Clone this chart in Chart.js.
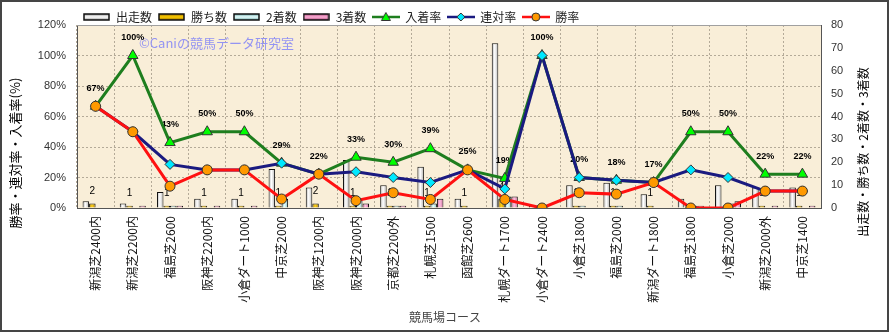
<!DOCTYPE html>
<html>
<head>
<meta charset="utf-8">
<script src="https://cdn.jsdelivr.net/npm/chart.js@4"></script>
<style>
  body { margin: 0; background: #fff; }
  #chart { display: block; }
</style>
</head>
<body>
<canvas id="chart" width="889" height="332"></canvas>
<script>
const labels = ["新潟芝2400内", "新潟芝2200内", "福島芝2600", "阪神芝2200内", "小倉ダート1000", "中京芝2000", "阪神芝1200内", "阪神芝2000内", "京都芝2200外", "札幌芝1500",
    "函館芝2600", "札幌ダート1700", "小倉ダート2400", "小倉芝1800", "福島芝2000", "新潟ダート1800", "福島芝1800", "小倉芝2000", "新潟芝2000外", "中京芝1400"]
const runs = [3, 2, 7, 4, 4, 17, 9, 21, 10, 18, 4, 72, 1, 10, 11, 6, 4, 10, 9, 9]
const wins = [2, 1, 1, 1, 1, 1, 2, 1, 1, 1, 1, 4, 0, 1, 1, 1, 0, 0, 1, 1]
const seconds = [0, 0, 1, 0, 0, 4, 0, 4, 1, 2, 0, 5, 1, 1, 1, 0, 1, 2, 0, 0]
const thirds = [0, 1, 1, 1, 1, 0, 0, 2, 1, 4, 0, 5, 0, 0, 0, 0, 1, 3, 1, 1]
const placeRate = [66.7, 100, 42.9, 50, 50, 29.4, 22.2, 33.3, 30, 38.9, 25, 19.4, 100, 20, 18.2, 16.7, 50, 50, 22.2, 22.2]
const quinellaRate = [66.7, 50, 28.6, 25, 25, 29.4, 22.2, 23.8, 20, 16.7, 25, 12.5, 100, 20, 18.2, 16.7, 25, 20, 11.1, 11.1]
const winRate = [66.7, 50, 14.3, 25, 25, 5.9, 22.2, 4.8, 10, 5.6, 25, 5.6, 0, 10, 9.1, 16.7, 0, 0, 11.1, 11.1]
const rateTicks = [0, 20, 40, 60, 80, 100, 120]
const countTicks = [0, 10, 20, 30, 40, 50, 60, 70, 80]

const JP = "'Noto Sans CJK JP', 'Noto Sans', sans-serif"
const LAT = "'Liberation Sans', Arial, sans-serif"

// cylinder-like fill across each bar
const barFill = (edge, mid, k) => (c) => {
    const xs = c.chart.scales.x
    if (c.type !== "data" || !xs || !(xs.right > xs.left)) return mid
    const catW = (xs.right - xs.left) / labels.length
    const bw = catW * 0.7 / 4
    const x0 = xs.getPixelForValue(c.dataIndex) - catW * 0.35 + bw * k
    const g = c.chart.ctx.createLinearGradient(x0, 0, x0 + bw, 0)
    g.addColorStop(0, edge)
    g.addColorStop(0.45, mid)
    g.addColorStop(1, edge)
    return g
}

const boxIcon = (edge, mid, border) => {
    const cv = document.createElement("canvas")
    cv.width = 27
    cv.height = 8
    const x = cv.getContext("2d")
    const g = x.createLinearGradient(0, 1, 0, 7)
    g.addColorStop(0, edge)
    g.addColorStop(0.5, mid)
    g.addColorStop(1, edge)
    x.fillStyle = g
    x.fillRect(1, 1, 25, 6)
    x.strokeStyle = border
    x.lineWidth = 1.5
    x.strokeRect(1, 1, 25, 6)
    return cv
}

const lineIcon = (color, fill, shape) => {
    const cv = document.createElement("canvas")
    cv.width = 28
    cv.height = 12
    const x = cv.getContext("2d")
    x.strokeStyle = color
    x.lineWidth = 2.5
    x.beginPath()
    x.moveTo(0, 6)
    x.lineTo(28, 6)
    x.stroke()
    x.fillStyle = fill
    x.strokeStyle = "#333"
    x.lineWidth = 1
    x.beginPath()
    if (shape === "tri") {
        x.moveTo(14, 1.5); x.lineTo(18.5, 9.5); x.lineTo(9.5, 9.5); x.closePath()
    } else if (shape === "dia") {
        x.moveTo(14, 2); x.lineTo(18, 6); x.lineTo(14, 10); x.lineTo(10, 6); x.closePath()
    } else {
        x.arc(14, 6, 4, 0, Math.PI * 2)
    }
    x.fill()
    x.stroke()
    return cv
}

const legendIcons = [
    boxIcon("#9a9a9a", "#ffffff", "#111"),
    boxIcon("#a07000", "#ffd000", "#111"),
    boxIcon("#70a8a8", "#e8ffff", "#111"),
    boxIcon("#b05080", "#ffb0d8", "#111"),
    lineIcon("#1e7e1e", "#00ff00", "tri"),
    lineIcon("#1a1a80", "#00e8ff", "dia"),
    lineIcon("#ff1010", "#ff9900", "circ")
]

const decoPlugin = {
    id: "deco",
    beforeDraw(chart) {
        const { ctx, chartArea: a } = chart
        ctx.save()
        ctx.fillStyle = "#ffffff"
        ctx.fillRect(0, 0, chart.width, chart.height)
        ctx.fillStyle = "#f9eed8"
        ctx.fillRect(a.left, a.top, a.right - a.left, a.bottom - a.top)
        ctx.restore()
    },
    beforeDatasetsDraw(chart) {
        const { ctx, chartArea: a } = chart
        ctx.save()
        ctx.font = "13px " + JP
        ctx.fillStyle = "#9494f2"
        ctx.textBaseline = "middle"
        ctx.fillText("©Caniの競馬データ研究室", 139, 43)
        ctx.strokeStyle = "#a0a0a0"
        ctx.lineWidth = 1
        ctx.beginPath()
        ctx.moveTo(a.left, a.top + 0.5)
        ctx.lineTo(a.right, a.top + 0.5)
        ctx.stroke()
        ctx.restore()
    },
    afterDatasetDraw(chart, args) {
        // bars share one order and are drawn last index first, so index 0 is the final bar set
        if (args.index !== 0) return
        const ctx = chart.ctx
        const goldMeta = chart.getDatasetMeta(1)
        const placeMeta = chart.getDatasetMeta(4)
        ctx.save()
        ctx.textAlign = "center"
        ctx.textBaseline = "middle"
        ctx.fillStyle = "#000"
        ctx.font = "10px " + LAT
        goldMeta.data.forEach((bar, i) => {
            if (wins[i] > 0) ctx.fillText(String(wins[i]), bar.x, bar.y - 12)
        })
        ctx.font = "bold 9px " + LAT
        placeMeta.data.forEach((pt, i) => {
            ctx.fillText(Math.round(placeRate[i]) + "%", pt.x, pt.y - 18)
        })
        ctx.restore()
    },
    afterDraw(chart) {
        const ctx = chart.ctx
        ctx.save()
        ctx.fillStyle = "#000"
        ctx.textAlign = "center"
        ctx.textBaseline = "middle"
        ctx.font = "13px " + JP
        ctx.translate(15, 153)
        ctx.rotate(-Math.PI / 2)
        ctx.fillText("勝率・連対率・入着率(%)", 0, 0)
        ctx.setTransform(1, 0, 0, 1, 0, 0)
        ctx.font = "12px " + JP
        ctx.translate(863, 152)
        ctx.rotate(-Math.PI / 2)
        ctx.fillText("出走数・勝ち数・2着数・3着数", 0, 0)
        ctx.setTransform(1, 0, 0, 1, 0, 0)
        ctx.fillStyle = "#444"
        ctx.fillText("競馬場コース", 445, 317)
        ctx.strokeStyle = "#454545"
        ctx.lineWidth = 2
        ctx.strokeRect(1, 1, chart.width - 2, chart.height - 2)
        ctx.restore()
    }
}

const barSet = (label, data, edge, mid, k) => ({
    type: "bar",
    label: label,
    data: data,
    yAxisID: "yR",
    order: 10,
    backgroundColor: barFill(edge, mid, k),
    borderColor: "#111",
    borderWidth: 1,
    categoryPercentage: 0.7,
    barPercentage: 1.0
})

const lineSet = (label, data, color, fill, style, radius, order) => ({
    type: "line",
    label: label,
    data: data,
    yAxisID: "yL",
    order: order,
    borderColor: color,
    borderWidth: 3,
    tension: 0,
    pointStyle: style,
    pointRadius: radius,
    pointBackgroundColor: fill,
    pointBorderColor: "#333",
    pointBorderWidth: 1
})

const ctx = document.querySelector("#chart")
const chart = new Chart(ctx, {
    type: "bar",
    data: {
        labels: labels,
        datasets: [
            barSet("出走数", runs, "#b4b4b4", "#ffffff", 0),
            barSet("勝ち数", wins, "#b08000", "#ffd21a", 1),
            barSet("2着数", seconds, "#90c4c4", "#e4ffff", 2),
            barSet("3着数", thirds, "#d070a0", "#ffbfe0", 3),
            lineSet("入着率", placeRate, "#1e7e1e", "#00ff00", "triangle", 6, 2),
            lineSet("連対率", quinellaRate, "#1a1a80", "#00e8ff", "rectRot", 5, 1),
            lineSet("勝率", winRate, "#ff1010", "#ff9900", "circle", 5, 0)
        ]
    },
    options: {
        responsive: false,
        animation: false,
        devicePixelRatio: 1,
        layout: { padding: { top: 5, left: 0, right: 0, bottom: 0 } },
        plugins: {
            tooltip: { enabled: false },
            legend: {
                position: "top",
                align: "start",
                fullSize: false,
                maxHeight: 20,
                labels: {
                    usePointStyle: true,
                    pointStyleWidth: 27,
                    padding: 6,
                    color: "#222",
                    font: { size: 12, family: JP },
                    generateLabels: (c) => {
                        const items = Chart.defaults.plugins.legend.labels.generateLabels(c)
                        items.forEach(it => { it.pointStyle = legendIcons[it.datasetIndex] })
                        return items.sort((a, b) => a.datasetIndex - b.datasetIndex)
                    }
                }
            }
        },
        scales: {
            x: {
                afterFit: (s) => { s.height = 124 },
                grid: { color: "#b4aa98", drawTicks: false, offset: true },
                border: { color: "#555", dash: [2, 2] },
                ticks: {
                    autoSkip: false,
                    minRotation: 90,
                    maxRotation: 90,
                    padding: 8,
                    color: "#111",
                    font: { size: 12, family: JP }
                }
            },
            yL: {
                position: "left",
                min: 0,
                max: 120,
                afterFit: (s) => { s.width = 77 },
                afterBuildTicks: (s) => { s.ticks = rateTicks.map(v => ({ value: v })) },
                grid: { color: "#b4aa98", drawTicks: false },
                border: { color: "#555", dash: [2, 2] },
                ticks: {
                    padding: 11,
                    color: "#333",
                    font: { size: 11, family: LAT },
                    callback: (v) => v + "%"
                }
            },
            yR: {
                position: "right",
                min: 0,
                max: 80,
                afterFit: (s) => { s.width = 68 },
                afterBuildTicks: (s) => { s.ticks = countTicks.map(v => ({ value: v })) },
                grid: { drawOnChartArea: false, drawTicks: false },
                border: { color: "#555" },
                ticks: {
                    padding: 10,
                    color: "#333",
                    font: { size: 11, family: LAT }
                }
            }
        }
    },
    plugins: [decoPlugin]
})
</script>
</body>
</html>
